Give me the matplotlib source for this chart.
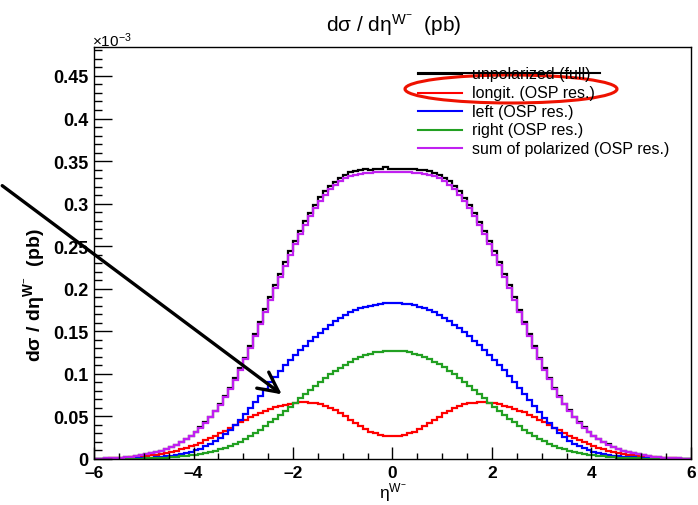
import numpy as np
import matplotlib
matplotlib.use('Agg')
import matplotlib.pyplot as plt
from matplotlib.patches import Ellipse, Rectangle, FancyArrowPatch
from matplotlib.lines import Line2D
from matplotlib.ticker import MultipleLocator, FuncFormatter

plt.rcParams['font.family'] = ['Liberation Sans', 'DejaVu Sans']
plt.rcParams['mathtext.fontset'] = 'custom'
plt.rcParams['mathtext.rm'] = 'Liberation Sans'
plt.rcParams['mathtext.it'] = 'Liberation Sans:italic'
plt.rcParams['mathtext.bf'] = 'Liberation Sans:bold'

# eta(W-) histograms, 120 bins from -6 to 6, values in units of 1e-3 pb
eta_lo, eta_hi, n_bins = -6.0, 6.0, 120

unpolarized = [
    0.0003, 0.0004, 0.0007, 0.0009, 0.0012, 0.0016, 0.0021, 0.0028, 0.0035, 0.0044,
    0.0054, 0.0067, 0.0081, 0.0098, 0.0118, 0.0141, 0.0169, 0.0200, 0.0235, 0.0276,
    0.0323, 0.0373, 0.0432, 0.0495, 0.0568, 0.0650, 0.0740, 0.0838, 0.0947, 0.1066,
    0.1192, 0.1326, 0.1466, 0.1610, 0.1757, 0.1903, 0.2040, 0.2177, 0.2310, 0.2438,
    0.2562, 0.2678, 0.2792, 0.2890, 0.2985, 0.3072, 0.3143, 0.3210, 0.3258, 0.3305,
    0.3338, 0.3366, 0.3385, 0.3392, 0.3402, 0.3400, 0.3407, 0.3405, 0.3428, 0.3410,
    0.3412, 0.3409, 0.3411, 0.3406, 0.3404, 0.3398, 0.3392, 0.3382, 0.3365, 0.3340,
    0.3303, 0.3262, 0.3208, 0.3145, 0.3070, 0.2986, 0.2890, 0.2790, 0.2678, 0.2562,
    0.2438, 0.2310, 0.2176, 0.2040, 0.1900, 0.1756, 0.1610, 0.1466, 0.1326, 0.1192,
    0.1066, 0.0946, 0.0838, 0.0739, 0.0650, 0.0570, 0.0496, 0.0432, 0.0374, 0.0322,
    0.0276, 0.0236, 0.0201, 0.0171, 0.0143, 0.0119, 0.0099, 0.0082, 0.0068, 0.0055,
    0.0045, 0.0035, 0.0028, 0.0022, 0.0017, 0.0012, 0.0009, 0.0007, 0.0004, 0.0003]

longit = [
    0.0002, 0.0003, 0.0004, 0.0006, 0.0008, 0.0011, 0.0014, 0.0018, 0.0023, 0.0029,
    0.0035, 0.0042, 0.0050, 0.0060, 0.0071, 0.0083, 0.0097, 0.0113, 0.0130, 0.0149,
    0.0170, 0.0193, 0.0218, 0.0245, 0.0273, 0.0303, 0.0334, 0.0365, 0.0397, 0.0429,
    0.0460, 0.0490, 0.0518, 0.0545, 0.0567, 0.0588, 0.0607, 0.0624, 0.0639, 0.0651,
    0.0660, 0.0665, 0.0666, 0.0663, 0.0656, 0.0644, 0.0626, 0.0601, 0.0571, 0.0537,
    0.0500, 0.0461, 0.0422, 0.0385, 0.0351, 0.0323, 0.0301, 0.0285, 0.0275, 0.0272,
    0.0271, 0.0274, 0.0284, 0.0300, 0.0322, 0.0350, 0.0384, 0.0420, 0.0459, 0.0498,
    0.0535, 0.0569, 0.0599, 0.0624, 0.0642, 0.0655, 0.0662, 0.0666, 0.0665, 0.0661,
    0.0653, 0.0641, 0.0626, 0.0609, 0.0590, 0.0569, 0.0547, 0.0521, 0.0493, 0.0463,
    0.0432, 0.0400, 0.0368, 0.0336, 0.0305, 0.0275, 0.0246, 0.0219, 0.0194, 0.0171,
    0.0150, 0.0131, 0.0114, 0.0098, 0.0084, 0.0072, 0.0061, 0.0051, 0.0042, 0.0035,
    0.0029, 0.0023, 0.0018, 0.0014, 0.0011, 0.0008, 0.0006, 0.0004, 0.0003, 0.0002]

left = [
    0.0001, 0.0001, 0.0002, 0.0002, 0.0003, 0.0004, 0.0005, 0.0007, 0.0009, 0.0010,
    0.0013, 0.0017, 0.0021, 0.0026, 0.0032, 0.0039, 0.0048, 0.0059, 0.0071, 0.0086,
    0.0103, 0.0123, 0.0147, 0.0175, 0.0208, 0.0246, 0.0290, 0.0340, 0.0396, 0.0458,
    0.0525, 0.0596, 0.0670, 0.0745, 0.0825, 0.0899, 0.0969, 0.1036, 0.1101, 0.1162,
    0.1221, 0.1278, 0.1333, 0.1386, 0.1437, 0.1486, 0.1532, 0.1576, 0.1617, 0.1655,
    0.1690, 0.1723, 0.1748, 0.1770, 0.1788, 0.1803, 0.1815, 0.1823, 0.1828, 0.1830,
    0.1831, 0.1829, 0.1825, 0.1816, 0.1805, 0.1790, 0.1771, 0.1750, 0.1725, 0.1693,
    0.1658, 0.1620, 0.1580, 0.1536, 0.1490, 0.1441, 0.1390, 0.1337, 0.1282, 0.1225,
    0.1166, 0.1105, 0.1041, 0.0975, 0.0906, 0.0834, 0.0762, 0.0690, 0.0619, 0.0550,
    0.0483, 0.0420, 0.0361, 0.0307, 0.0259, 0.0217, 0.0181, 0.0151, 0.0126, 0.0105,
    0.0088, 0.0073, 0.0060, 0.0049, 0.0040, 0.0033, 0.0027, 0.0022, 0.0018, 0.0014,
    0.0011, 0.0009, 0.0007, 0.0005, 0.0004, 0.0003, 0.0002, 0.0002, 0.0001, 0.0001]

right = [
    0.0000, 0.0000, 0.0001, 0.0001, 0.0001, 0.0002, 0.0002, 0.0003, 0.0004, 0.0005,
    0.0006, 0.0008, 0.0010, 0.0013, 0.0016, 0.0020, 0.0025, 0.0030, 0.0036, 0.0043,
    0.0051, 0.0060, 0.0071, 0.0084, 0.0098, 0.0114, 0.0133, 0.0154, 0.0178, 0.0205,
    0.0235, 0.0268, 0.0304, 0.0343, 0.0385, 0.0430, 0.0473, 0.0518, 0.0565, 0.0613,
    0.0662, 0.0712, 0.0762, 0.0811, 0.0859, 0.0906, 0.0951, 0.0994, 0.1035, 0.1074,
    0.1110, 0.1143, 0.1172, 0.1198, 0.1220, 0.1238, 0.1252, 0.1262, 0.1268, 0.1270,
    0.1271, 0.1268, 0.1263, 0.1253, 0.1239, 0.1221, 0.1199, 0.1173, 0.1144, 0.1111,
    0.1075, 0.1036, 0.0995, 0.0952, 0.0907, 0.0860, 0.0812, 0.0763, 0.0713, 0.0663,
    0.0614, 0.0566, 0.0519, 0.0474, 0.0431, 0.0387, 0.0345, 0.0306, 0.0270, 0.0237,
    0.0207, 0.0179, 0.0155, 0.0134, 0.0115, 0.0099, 0.0085, 0.0072, 0.0061, 0.0052,
    0.0044, 0.0036, 0.0030, 0.0025, 0.0020, 0.0016, 0.0013, 0.0010, 0.0008, 0.0006,
    0.0005, 0.0004, 0.0003, 0.0002, 0.0002, 0.0001, 0.0001, 0.0001, 0.0000, 0.0000]

sum_polarized = [
    0.0003, 0.0004, 0.0007, 0.0009, 0.0012, 0.0016, 0.0021, 0.0027, 0.0035, 0.0043,
    0.0053, 0.0066, 0.0080, 0.0097, 0.0117, 0.0140, 0.0167, 0.0198, 0.0232, 0.0272,
    0.0318, 0.0368, 0.0425, 0.0489, 0.0560, 0.0640, 0.0728, 0.0825, 0.0932, 0.1048,
    0.1172, 0.1303, 0.1440, 0.1582, 0.1727, 0.1870, 0.2006, 0.2140, 0.2272, 0.2400,
    0.2522, 0.2640, 0.2750, 0.2852, 0.2946, 0.3031, 0.3105, 0.3168, 0.3221, 0.3265,
    0.3300, 0.3327, 0.3342, 0.3353, 0.3359, 0.3364, 0.3368, 0.3370, 0.3371, 0.3372,
    0.3373, 0.3371, 0.3369, 0.3367, 0.3363, 0.3358, 0.3351, 0.3340, 0.3325, 0.3299,
    0.3266, 0.3223, 0.3170, 0.3107, 0.3033, 0.2948, 0.2854, 0.2752, 0.2642, 0.2524,
    0.2402, 0.2275, 0.2143, 0.2009, 0.1873, 0.1730, 0.1585, 0.1443, 0.1306, 0.1175,
    0.1051, 0.0935, 0.0828, 0.0731, 0.0643, 0.0563, 0.0491, 0.0427, 0.0370, 0.0320,
    0.0274, 0.0234, 0.0199, 0.0169, 0.0142, 0.0118, 0.0098, 0.0081, 0.0067, 0.0054,
    0.0044, 0.0035, 0.0028, 0.0022, 0.0017, 0.0012, 0.0009, 0.0007, 0.0004, 0.0003]

labels = ['unpolarized (full)', 'longit. (OSP res.)', 'left (OSP res.)',
          'right (OSP res.)', 'sum of polarized (OSP res.)']
colors = ['black', '#ff0000', '#0000ff', '#22a022', '#c020f0']
series = [unpolarized, longit, left, right, sum_polarized]

W, H = 698, 506
fig = plt.figure(figsize=(W/100, H/100), dpi=100)
ax = fig.add_axes([94/W, 46/H, 597/W, 412/H])

edges = np.linspace(eta_lo, eta_hi, n_bins+1)
for vals, col in zip(series, colors):
    ax.stairs(vals, edges, color=col, lw=1.6)

ax.set_xlim(eta_lo, eta_hi)
ax.set_ylim(0, 0.484)

ax.xaxis.set_major_locator(MultipleLocator(2))
ax.xaxis.set_minor_locator(MultipleLocator(0.5))
ax.yaxis.set_major_locator(MultipleLocator(0.05))
ax.yaxis.set_minor_locator(MultipleLocator(0.01))
ax.yaxis.set_major_formatter(FuncFormatter(lambda v, p: '%g' % round(v, 3)))
ax.xaxis.set_major_formatter(FuncFormatter(lambda v, p: ('%g' % v).replace('-', '\u2013')))

ax.tick_params(axis='both', which='both', direction='in', top=False, right=False)
ax.tick_params(axis='y', which='major', length=13, width=1, pad=4)
ax.tick_params(axis='y', which='minor', length=6, width=1)
ax.tick_params(axis='x', which='major', length=9, width=1, pad=4)
ax.tick_params(axis='x', which='minor', length=4, width=1)
for lab in ax.get_yticklabels():
    lab.set_fontweight('bold')
    lab.set_fontsize(13)
for lab in ax.get_xticklabels():
    lab.set_fontweight('bold')
    lab.set_fontsize(12.5)
for sp in ax.spines.values():
    sp.set_linewidth(1.0)

# keep the "-6" label clear of the y "0" at the corner
ax.xaxis.get_major_ticks()[0].label1.set_horizontalalignment('left')

ax.set_xlabel('\u03b7$^{\\mathrm{W}^{-}}$', fontsize=12.5, va='bottom')
ax.xaxis.set_label_coords(0.5, -0.106)
ax.set_ylabel('d\u03c3 / d\u03b7$^{\\mathbf{W}^{-}}$  (pb)', fontsize=14, fontweight='bold')
ax.yaxis.set_label_coords(-0.079, 0.40)

fig.text(394/W, 1-25/H, 'd\u03c3 / d\u03b7$^{\\mathrm{W}^{-}}$  (pb)', fontsize=15,
         ha='center', va='center')
fig.text(92/W, 1-47/H, '\u00d710$^{-3}$', fontsize=11, ha='left', va='baseline')

# legend (no frame)
for i, (lab, col) in enumerate(zip(labels, colors)):
    y = 1 - (75 + 18.6*i)/H
    fig.add_artist(Line2D([418/W, 462/W], [y, y], color=col, lw=1.5))
    fig.text(472/W, y, lab, fontsize=11.5, ha='left', va='center')
# first entry is overdrawn at the top in the original
fig.add_artist(Rectangle((466/W, 1-73.5/H), 140/W, 12/H, facecolor='white',
                         edgecolor='none'))
fig.add_artist(Line2D([418/W, 600/W], [1-74/H, 1-74/H], color='black', lw=1.5))

# annotations
fig.add_artist(Ellipse((511/W, 1-90/H), 212/W, 28/H, fill=False,
                       edgecolor='#ee1100', lw=2.2))
fig.add_artist(FancyArrowPatch((0, 1-185/H), (284/W, 1-397/H),
                               transform=fig.transFigure,
                               arrowstyle='->,head_length=0.9,head_width=0.45',
                               mutation_scale=16, color='black', lw=2.4))

fig.savefig('out.png', dpi=100)
